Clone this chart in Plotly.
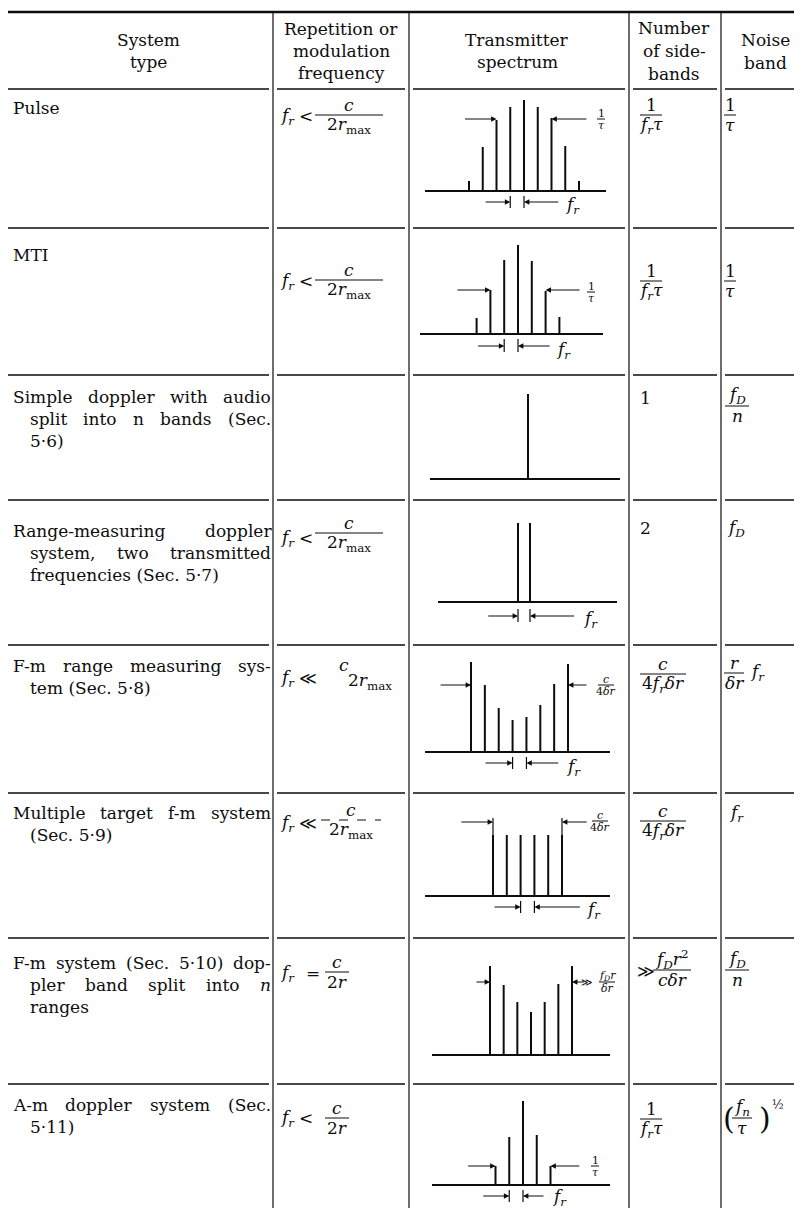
import re
import plotly.graph_objects as go

W, H = 802, 1208
FONT = "DejaVu Serif"
INK = "#0d0d0d"
FS = 17

# ---------------- data ----------------
system_types = [
    ["Pulse"],
    ["MTI"],
    ["Simple doppler with audio", "split into n bands (Sec.", "5·6)"],
    ["Range-measuring doppler", "system, two transmitted", "frequencies (Sec. 5·7)"],
    ["F-m range measuring sys-", "tem (Sec. 5·8)"],
    ["Multiple target f-m system", "(Sec. 5·9)"],
    ["F-m system (Sec. 5·10) dop-", "pler band split into <i>n</i>", "ranges"],
    ["A-m doppler system (Sec.", "5·11)"],
]
header_system = ["System", "type"]
header_freq = ["Repetition or", "modulation", "frequency"]
header_spec = ["Transmitter", "spectrum"]
header_side = ["Number", "of side-", "bands"]
header_noise = ["Noise", "band"]

# spectral line positions (in units of the line spacing) and amplitudes
pulse_pos = [-4, -3, -2, -1, 0, 1, 2, 3, 4]
pulse_amp = [10, 44, 71, 84, 91, 84, 73, 45, 10]
mti_pos = [-3, -2, -1, 0, 1, 2, 3]
mti_amp = [16, 44, 74, 89, 73, 43, 17]
doppler_pos = [0]
doppler_amp = [85]
range_pos = [0, 1]
range_amp = [79, 79]
fm_range_pos = [0, 1, 2, 3, 4, 5, 6, 7]
fm_range_amp = [90, 67, 44, 32, 35, 47, 68, 88]
multi_pos = [0, 1, 2, 3, 4, 5]
multi_amp = [61, 61, 61, 61, 61, 61]
fm_dopp_pos = [0, 1, 2, 3, 4, 5, 6]
fm_dopp_amp = [89, 70, 53, 43, 53, 71, 89]
am_pos = [-2, -1, 0, 1, 2]
am_amp = [19, 48, 84, 50, 19]

spectra = [(pulse_pos, pulse_amp), (mti_pos, mti_amp), (doppler_pos, doppler_amp),
           (range_pos, range_amp), (fm_range_pos, fm_range_amp), (multi_pos, multi_amp),
           (fm_dopp_pos, fm_dopp_amp), (am_pos, am_amp)]

# ---------------- layout geometry ----------------
# (pixel x of position 0, pixels per step, baseline y, baseline left, baseline right)
SPEC_GEOM = [
    (516, 13.75, 183, 417, 598),
    (510, 13.8, 326, 412, 595),
    (520, 13.75, 471, 422, 612),
    (510, 12.0, 594, 430, 609),
    (463, 13.86, 744, 417, 602),
    (485, 13.8, 888, 417, 602),
    (482, 13.67, 1047, 424, 602),
    (515, 13.75, 1177, 424, 602),
]
BELOW, ABOVE = 25, 100
# dimension arrows per spectrum: (head_x, head_y, tail_x, tail_y)
SPEC_ARROWS = [
    [(-2, 72, -4.4, 72), (2, 72, 4.65, 72), (-1, -11, -2.9, -11), (0, -11, 2.6, -11)],
    [(-2, 44, -4.5, 44), (2, 44, 4.57, 44), (-1, -12, -3.0, -12), (0, -12, 2.4, -12)],
    [],
    [(0, -14, -2.6, -14), (1, -14, 4.8, -14)],
    [(0, 67, -2.3, 67), (7, 67, 8.44, 67), (3, -11, 0.94, -11), (4, -11, 6.4, -11)],
    [(0, 74, -2.4, 74), (5, 74, 6.9, 74), (2, -11, 0.0, -11), (3, -11, 6.4, -11)],
    [(0, 73, -1.1, 73), (6, 73, 7.0, 73)],
    [(-2, 19, -4.1, 19), (2, 19, 4.2, 19), (-1, -11, -3.0, -11), (0, -11, 1.6, -11)],
]
# small extension ticks (x, y0, y1)
SPEC_TICKS = [
    [(-1, -5, -17), (0, -5, -17)],
    [(-1, -5, -18), (0, -5, -18)],
    [],
    [(0, -7, -20), (1, -7, -20)],
    [(3, -5, -17), (4, -5, -17)],
    [(0, 61, 78), (5, 61, 78), (2, -5, -17), (3, -5, -17)],
    [],
    [(-1, -5, -17), (0, -5, -17)],
]

ROW_LINES = [81, 220, 367, 492, 637, 785, 930, 1076]
COL_LINES = [265, 401, 621, 713]
SEGMENTS = [(0, 261), (269, 397), (405, 617), (625, 709), (717, 802)]
ROW_TEXT_Y = [100, 247, 389, 523, 658, 805, 955, 1097]
LINE_GAP = 22

ann, shp = [], []


def T(x, y, s, size=FS, xa='left', ya='middle'):
    ann.append(dict(x=x, y=y, xref='x', yref='y', text=s, showarrow=False,
                    xanchor=xa, yanchor=ya,
                    font=dict(family=FONT, size=size, color=INK)))


def L(x0, y0, x1, y1, w=1.2, xref='x', yref='y', dash=None):
    d = dict(type='line', x0=x0, y0=y0, x1=x1, y1=y1, xref=xref, yref=yref,
             line=dict(color=INK, width=w))
    if dash:
        d['line']['dash'] = dash
    shp.append(d)


def frac(xc, yc, num, den, hw, size=FS, g=None, dash=None):
    g = g if g is not None else 0.6 * size
    T(xc, yc - g, num, size, 'center')
    T(xc, yc + g, den, size, 'center')
    L(xc - hw, yc, xc + hw, yc, w=1, dash=dash)


CW = {' ': 0.318, 'a': 0.596, 'b': 0.640, 'c': 0.560, 'd': 0.640, 'e': 0.592, 'f': 0.370,
      'g': 0.640, 'h': 0.644, 'i': 0.320, 'j': 0.310, 'k': 0.606, 'l': 0.320, 'm': 0.948,
      'n': 0.644, 'o': 0.602, 'p': 0.640, 'q': 0.640, 'r': 0.478, 's': 0.513, 't': 0.402,
      'u': 0.644, 'v': 0.565, 'w': 0.856, 'x': 0.564, 'y': 0.565, 'z': 0.527, 'A': 0.722,
      'F': 0.694, 'M': 1.024, 'R': 0.753, 'S': 0.685, 'P': 0.673, 'T': 0.667, 'I': 0.395,
      '(': 0.390, ')': 0.390, '.': 0.318, ',': 0.318, '-': 0.338, '·': 0.318}


def tw(s, size):
    s = re.sub('<[^>]+>', '', s)
    return sum(CW.get(c, 0.636) for c in s) * size


def justify(line, x0, x1, y, size=FS):
    words = line.split(' ')
    if len(words) == 1:
        T(x0, y, line, size)
        return
    widths = [tw(w, size) for w in words]
    gap = (x1 - x0 - sum(widths)) / (len(words) - 1)
    x = x0
    for w, wd in zip(words, widths):
        T(x, y, w, size)
        x += wd + gap


# ---------------- table rules ----------------
L(0, 4, W, 4, w=2.4)
for y in ROW_LINES:
    for a, b in SEGMENTS:
        L(a, y, b, y, w=1.3)
for x in COL_LINES:
    L(x, 4, x, H, w=1.2)

# ---------------- header ----------------
for i, s in enumerate(header_system):
    T(140, 32 + 22 * i, s, xa='center')
for i, s in enumerate(header_freq):
    T(333, 21 + 22 * i, s, xa='center')
for i, s in enumerate(header_spec):
    T(509, 32 + 22 * i, s, xa='center')
for i, s in enumerate(header_side):
    T(666, 20 + 23 * i, s, xa='center')
for i, s in enumerate(header_noise):
    T(757, 32 + 23 * i, s, xa='center')

# ---------------- system type column ----------------
for lines, y0 in zip(system_types, ROW_TEXT_Y):
    for j, line in enumerate(lines):
        x0 = 3 if j == 0 else 20
        y = y0 + LINE_GAP * j
        if j < len(lines) - 1:
            justify(line, x0, 261, y)
        else:
            T(x0, y, line)

# ---------------- formulas ----------------
fr = "<i>f<sub>r</sub></i>"
fD = "<i>f<sub>D</sub></i>"
c = "<i>c</i>"
rmax = "2<i>r</i><sub>max</sub>"
frtau = "<i>f<sub>r</sub>τ</i>"
tau = "<i>τ</i>"

# repetition / modulation frequency column
T(270, 108, fr); T(289, 108, "&lt;"); frac(341, 107, c, rmax, 34)
T(270, 273, fr); T(289, 273, "&lt;"); frac(341, 272, c, rmax, 34)
T(270, 530, fr); T(289, 530, "&lt;"); frac(341, 525, c, rmax, 34)
T(270, 670, fr); T(289, 670, "≪"); T(336, 657, c, xa='center'); T(338, 673, rmax)
T(270, 815, fr); T(289, 815, "≪"); frac(343, 812, c, rmax, 30, dash='dash')
T(270, 965, fr); T(296, 965, "="); frac(329, 964, c, "2<i>r</i>", 12)
T(270, 1110, fr); T(289, 1110, "&lt;"); frac(329, 1110, c, "2<i>r</i>", 12)

# number of sidebands column
frac(643, 107, "1", frtau, 11)
frac(643, 273, "1", frtau, 11)
T(630, 390, "1")
T(630, 520, "2")
frac(655, 666, c, "4<i>f<sub>r</sub>δr</i>", 23)
frac(655, 813, c, "4<i>f<sub>r</sub>δr</i>", 23)
T(627, 963, "≫"); frac(664, 962, "<i>f<sub>D</sub>r</i><sup>2</sup>", "<i>cδr</i>", 19)
frac(643, 1111, "1", frtau, 11)

# noise band column
frac(722, 107, "1", tau, 6)
frac(722, 273, "1", tau, 6)
frac(729, 398, fD, "<i>n</i>", 12)
T(717, 520, fD)
frac(726, 665, "<i>r</i>", "<i>δr</i>", 10); T(740, 664, fr)
T(719, 805, fr)
frac(729, 962, fD, "<i>n</i>", 12)
T(713, 1110, "(", size=30); frac(734, 1110, "<i>f<sub>n</sub></i>", tau, 10); T(749, 1110, ")", size=30)
T(762, 1097, "½", size=12)

# spectrum labels
frac(593, 111, "1", tau, 4, size=11, g=6); T(555, 197, fr)
frac(583, 284, "1", tau, 4, size=11, g=6); T(546, 342, fr)
T(573, 611, fr)
frac(598, 677, c, "4<i>δr</i>", 8, size=11, g=6); T(556, 759, fr)
frac(592, 813, c, "4<i>δr</i>", 8, size=11, g=6); T(576, 902, fr)
T(587, 974, "≫", size=11, xa='right'); frac(599, 974, "<i>f<sub>D</sub>r</i>", "<i>δr</i>", 8, size=11, g=6)
frac(587, 1158, "1", tau, 4, size=11, g=6); T(542, 1189, fr)

# ---------------- figure ----------------
fig = go.Figure()
fig.add_trace(go.Scatter(x=[], y=[], xaxis='x', yaxis='y', showlegend=False, hoverinfo='skip'))

axes = {}
for i, ((pos, amp), (p0, step, yb, xl, xr)) in enumerate(zip(spectra, SPEC_GEOM)):
    n = i + 2
    xs, ys = [], []
    for p, a in zip(pos, amp):
        xs += [p, p, None]
        ys += [0, a, None]
    fig.add_trace(go.Scatter(x=xs, y=ys, mode='lines', line=dict(color=INK, width=2),
                             xaxis=f'x{n}', yaxis=f'y{n}', hoverinfo='skip', showlegend=False))
    axes[f'xaxis{n}'] = dict(domain=[xl / W, xr / W], range=[(xl - p0) / step, (xr - p0) / step],
                             anchor=f'y{n}', showgrid=False, zeroline=False, showticklabels=False,
                             ticks='', showline=False, fixedrange=True)
    axes[f'yaxis{n}'] = dict(domain=[1 - (yb + BELOW) / H, 1 - (yb - ABOVE) / H], range=[-BELOW, ABOVE],
                             anchor=f'x{n}', showgrid=False, zeroline=True, zerolinecolor=INK,
                             zerolinewidth=1.6, showticklabels=False, ticks='', showline=False,
                             fixedrange=True)
    for hx, hy, tx, ty in SPEC_ARROWS[i]:
        ann.append(dict(x=hx, y=hy, ax=tx, ay=ty, xref=f'x{n}', yref=f'y{n}',
                        axref=f'x{n}', ayref=f'y{n}', text='', showarrow=True,
                        arrowhead=2, arrowsize=0.9, arrowwidth=1.2, arrowcolor=INK, standoff=0))
    for tx, t0, t1 in SPEC_TICKS[i]:
        L(tx, t0, tx, t1, w=1.2, xref=f'x{n}', yref=f'y{n}')

fig.update_layout(
    width=W, height=H, margin=dict(l=0, r=0, t=0, b=0),
    paper_bgcolor='white', plot_bgcolor='white', showlegend=False,
    xaxis=dict(domain=[0, 1], range=[0, W], visible=False, fixedrange=True),
    yaxis=dict(domain=[0, 1], range=[H, 0], visible=False, fixedrange=True),
    annotations=ann, shapes=shp, **axes,
)
fig.write_html("out.html")
